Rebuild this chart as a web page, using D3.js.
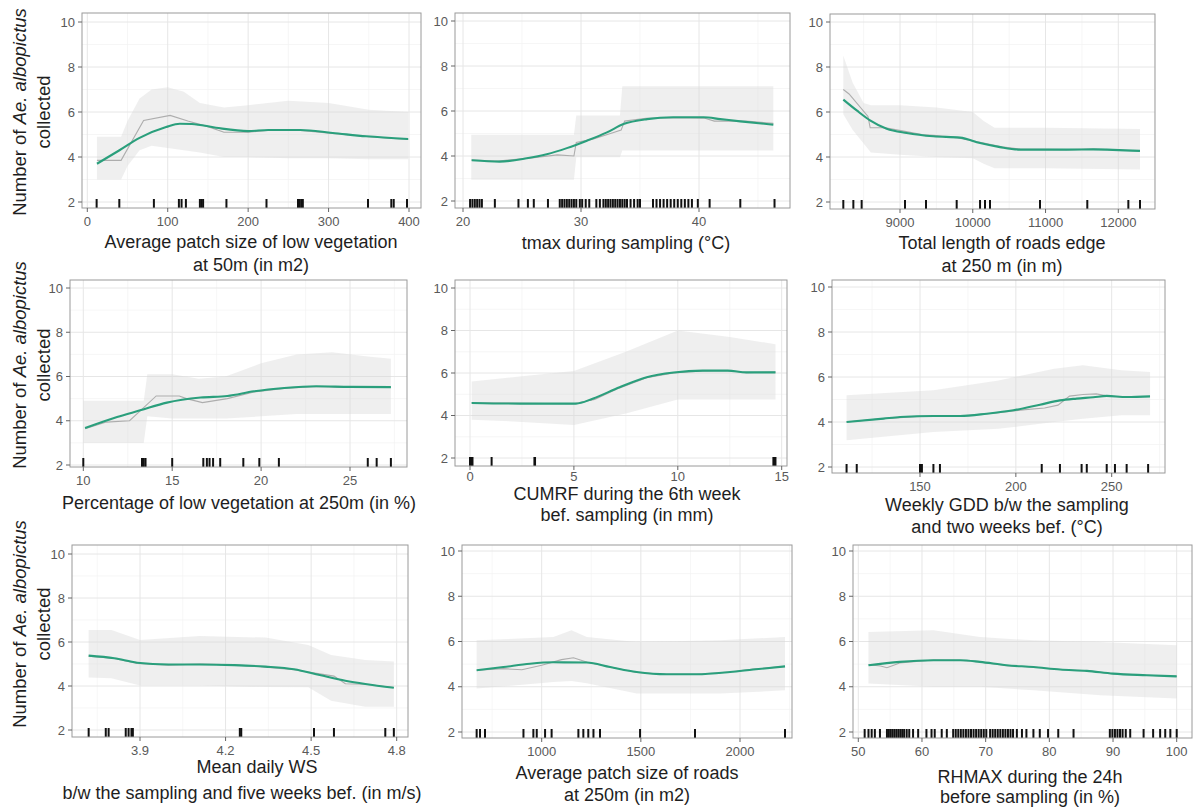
<!DOCTYPE html>
<html>
<head>
<meta charset="utf-8">
<script src="https://cdn.jsdelivr.net/npm/d3@7"></script>
<style>
  body { margin: 0; background: #fff; }
  svg { display: block; }
  text { font-family: "Liberation Sans", Arial, sans-serif; }
</style>
</head>
<body>
<div id="chart"></div>
<script>
// ---- data: partial dependence of Ae. albopictus counts ----
// average patch size of low vegetation at 50m
const vegPatchFitX = [12, 40, 65, 98, 115, 130, 160, 200, 225, 265, 305, 347, 399];
const vegPatchFit = [3.7, 4.3, 4.85, 5.33, 5.48, 5.47, 5.3, 5.15, 5.2, 5.2, 5.07, 4.92, 4.8];
const vegPatchRawX = [12, 42, 70, 103, 125, 150, 170, 200, 230, 265, 305, 350, 399];
const vegPatchRaw = [3.85, 3.85, 5.62, 5.85, 5.6, 5.35, 5.1, 5.1, 5.2, 5.18, 5.05, 4.9, 4.78];
const vegPatchBandX = [12, 42, 50, 65, 80, 100, 120, 140, 170, 200, 250, 300, 350, 399];
const vegPatchHi = [4.9, 4.9, 5.6, 6.6, 7.0, 7.1, 6.9, 6.4, 6.2, 6.3, 6.5, 6.4, 6.1, 6.0];
const vegPatchLo = [3.0, 3.0, 3.6, 4.3, 4.5, 4.4, 4.3, 4.2, 4.0, 4.0, 3.95, 3.95, 3.9, 3.9];
const vegPatchRug = [11.6, 39.8, 82.8, 113.9, 117.2, 122.6, 140, 142, 144, 173, 222.8, 262, 264, 266, 268, 349, 378, 381, 397.5];

// tmax during sampling
const tmaxFitX = [20.74, 23.1, 25.4, 27.1, 28.8, 30.5, 32.2, 33.6, 35.6, 37.8, 40.4, 41.8, 43.5, 46.3];
const tmaxFit = [3.81, 3.75, 3.9, 4.08, 4.35, 4.68, 5.05, 5.42, 5.64, 5.72, 5.72, 5.64, 5.54, 5.39];
const tmaxRawX = [20.7, 23, 26, 28, 29.4, 29.6, 31, 32.5, 33.4, 33.7, 35.5, 38, 40.5, 41.3, 44, 46.3];
const tmaxRaw = [3.82, 3.78, 3.92, 4.05, 4.0, 4.6, 4.75, 5.0, 5.15, 5.55, 5.68, 5.7, 5.68, 5.55, 5.55, 5.45];
const tmaxBandX = [20.7, 29.4, 29.6, 33.3, 33.5, 46.3];
const tmaxHi = [4.95, 4.95, 5.8, 5.8, 7.1, 7.1];
const tmaxLo = [2.95, 2.95, 3.95, 3.95, 4.25, 4.25];
const tmaxRug = [20.6, 20.8, 21.0, 21.2, 21.4, 21.6, 22.7, 24.7, 25.5, 26.0, 27.2,
  28.2, 28.4, 28.6, 28.8, 29.0, 29.2, 29.4, 29.6, 29.9, 30.1, 30.4, 30.7, 31.3, 31.6,
  31.9, 32.1, 32.3, 32.5, 32.7, 32.9, 33.1, 33.3, 33.5, 33.7, 33.9, 34.2, 34.5, 34.8, 35.0,
  36.1, 36.4, 36.7, 37.0, 37.3, 37.6, 37.9, 38.2, 38.5, 38.8, 39.1, 39.4, 39.9, 40.9, 43.5, 46.4];

// total length of roads edge at 250 m
const roadEdgeFitX = [8221, 8405, 8588, 8817, 9092, 9458, 9825, 10100, 10374, 10649, 11290, 11657, 12298];
const roadEdgeFit = [6.55, 6.07, 5.63, 5.26, 5.07, 4.92, 4.86, 4.62, 4.44, 4.33, 4.33, 4.34, 4.27];
const roadEdgeRawX = [8221, 8300, 8560, 8590, 8800, 9050, 9300, 9500, 9800, 10100, 10400, 10650, 11300, 11650, 12298];
const roadEdgeRaw = [7.0, 6.8, 5.8, 5.3, 5.3, 5.15, 5.0, 4.95, 4.85, 4.65, 4.45, 4.35, 4.33, 4.35, 4.27];
const roadEdgeBandX = [8221, 8350, 8500, 8600, 9000, 9500, 10000, 10150, 10300, 11000, 12298];
const roadEdgeHi = [8.5, 7.3, 6.4, 6.3, 6.3, 6.2, 6.0, 5.6, 5.3, 5.3, 5.25];
const roadEdgeLo = [5.9, 5.2, 4.6, 4.2, 4.1, 4.0, 3.95, 3.7, 3.5, 3.5, 3.45];
const roadEdgeRug = [8221, 8359, 8473, 9069, 9357, 9779, 10100, 10168, 10237, 10924, 11574, 12138, 12298];

// percentage of low vegetation at 250m
const lowVegFitX = [10.1, 11.9, 13.2, 14.7, 16.6, 18.1, 19.6, 21.3, 23.1, 25, 27.3];
const lowVegFit = [3.67, 4.17, 4.47, 4.82, 5.05, 5.12, 5.33, 5.48, 5.56, 5.53, 5.52];
const lowVegRawX = [10.1, 11.3, 12.6, 13.2, 14.1, 15.4, 15.8, 16.7, 18.1, 19.6, 21.3, 23.1, 25, 27.3];
const lowVegRaw = [3.64, 3.94, 4.0, 4.45, 5.12, 5.12, 5.0, 4.82, 5.0, 5.3, 5.46, 5.55, 5.5, 5.5];
const lowVegBandX = [10, 13.4, 13.6, 15, 16.5, 18, 20, 22, 24, 26, 27.3];
const lowVegHi = [4.9, 4.9, 6.1, 6.1, 5.9, 6.0, 6.6, 7.0, 7.1, 6.9, 6.8];
const lowVegLo = [3.0, 3.0, 4.2, 4.1, 4.1, 4.1, 4.2, 4.3, 4.3, 4.3, 4.3];
const lowVegRug = [10.0, 13.3, 13.4, 13.5, 15.0, 16.75, 16.95, 17.1, 17.3, 17.7, 19.0, 19.9, 21.0, 26.0, 26.5, 27.3];

// CUMRF during the 6th week before sampling
const cumrfFitX = [0.08, 2.4, 5.1, 5.9, 7.2, 8.5, 9.8, 11.2, 12.4, 13.3, 14.7];
const cumrfFit = [4.59, 4.56, 4.56, 4.79, 5.33, 5.8, 6.02, 6.11, 6.11, 6.03, 6.03];
const cumrfRawX = [0.08, 2.4, 5.0, 6.0, 7.2, 8.5, 9.8, 11.2, 12.4, 13.3, 14.7];
const cumrfRaw = [4.6, 4.58, 4.55, 4.76, 5.3, 5.78, 6.0, 6.1, 6.12, 6.02, 6.04];
const cumrfBandX = [0.08, 2.5, 5, 7.5, 10, 12.5, 14.7];
const cumrfHi = [5.6, 5.85, 6.1, 7.0, 8.0, 7.7, 7.35];
const cumrfLo = [3.8, 3.7, 3.55, 4.1, 4.75, 4.75, 4.75];
const cumrfRug = [0.0, 0.08, 0.12, 1.04, 3.1, 3.13, 14.6, 14.64, 14.7];

// weekly GDD between sampling and two weeks before
const gddFitX = [111.7, 130.9, 139.6, 157, 170.9, 184.8, 198.7, 212.6, 223, 231.7, 240.4, 247.4, 257.8, 270];
const gddFit = [4.0, 4.15, 4.22, 4.27, 4.27, 4.37, 4.52, 4.77, 4.96, 5.04, 5.1, 5.16, 5.11, 5.14];
const gddRawX = [111.7, 130.9, 150, 170, 190, 205, 215, 222, 228, 235, 242, 248, 258, 270];
const gddRaw = [4.0, 4.15, 4.25, 4.27, 4.4, 4.55, 4.62, 4.75, 5.15, 5.22, 5.25, 5.15, 5.1, 5.13];
const gddBandX = [111.7, 157, 191, 220, 235, 255, 270];
const gddHi = [5.19, 5.41, 5.85, 6.37, 6.52, 6.3, 6.22];
const gddLo = [3.19, 3.56, 3.7, 4.0, 4.15, 4.3, 4.3];
const gddRug = [111.7, 117, 150, 151, 157, 160.4, 213.5, 223, 234.3, 237, 247.4, 251.7, 257.8, 269];

// mean daily wind speed
const windFitX = [3.72, 3.81, 3.89, 4.0, 4.11, 4.23, 4.34, 4.44, 4.53, 4.62, 4.69, 4.79];
const windFit = [5.38, 5.26, 5.06, 4.98, 4.98, 4.95, 4.88, 4.76, 4.5, 4.24, 4.09, 3.92];
const windRawX = [3.72, 3.81, 3.89, 4.0, 4.11, 4.23, 4.34, 4.44, 4.53, 4.58, 4.62, 4.69, 4.79];
const windRaw = [5.36, 5.25, 5.02, 4.95, 5.0, 4.96, 4.86, 4.74, 4.55, 4.45, 4.1, 4.08, 3.93];
const windBandX = [3.72, 3.8, 3.9, 4.11, 4.34, 4.49, 4.57, 4.69, 4.79];
const windHi = [6.55, 6.55, 6.09, 6.27, 6.2, 5.86, 5.41, 5.18, 5.11];
const windLo = [4.39, 4.35, 4.02, 4.02, 3.95, 3.94, 3.33, 3.06, 3.06];
const windRug = [3.72, 3.78, 3.79, 3.85, 3.86, 3.87, 3.875, 4.25, 4.255, 4.51, 4.58, 4.76, 4.79];

// average patch size of roads at 250m
const roadPatchFitX = [672, 807, 941, 1059, 1227, 1345, 1479, 1630, 1782, 1950, 2067, 2227];
const roadPatchFit = [4.73, 4.87, 5.02, 5.08, 5.07, 4.87, 4.65, 4.55, 4.55, 4.65, 4.76, 4.9];
const roadPatchRawX = [672, 807, 900, 1000, 1100, 1160, 1230, 1345, 1479, 1630, 1782, 1950, 2067, 2227];
const roadPatchRaw = [4.73, 4.8, 4.75, 4.95, 5.2, 5.28, 5.08, 4.87, 4.63, 4.55, 4.55, 4.65, 4.78, 4.9];
const roadPatchBandX = [672, 1059, 1150, 1227, 1479, 1900, 2227];
const roadPatchHi = [6.05, 6.2, 6.5, 6.2, 5.98, 6.05, 6.2];
const roadPatchLo = [3.92, 4.21, 4.25, 4.15, 3.7, 3.7, 3.84];
const roadPatchRug = [672, 689, 714, 908, 958, 975, 1017, 1050, 1185, 1210, 1235, 1261, 1294, 1496, 1773, 2227];

// RHMAX during the 24h before sampling
const rhmaxFitX = [51.6, 56.5, 61.8, 66, 69.1, 73.3, 77.5, 81.7, 85.9, 90, 95.3, 100];
const rhmaxFit = [4.95, 5.1, 5.17, 5.17, 5.1, 4.95, 4.87, 4.76, 4.7, 4.58, 4.51, 4.46];
const rhmaxRawX = [51.6, 53.5, 54.5, 56.5, 61.8, 66, 69.1, 73.3, 77.5, 81.7, 85.9, 90, 95.3, 100];
const rhmaxRaw = [4.97, 4.92, 4.84, 5.05, 5.18, 5.17, 5.1, 4.93, 4.87, 4.76, 4.7, 4.58, 4.51, 4.46];
const rhmaxBandX = [51.6, 61.8, 69.1, 77.5, 88, 100];
const rhmaxHi = [6.42, 6.5, 6.2, 6.05, 5.98, 5.83];
const rhmaxLo = [4.14, 4.0, 4.0, 3.84, 3.62, 3.48];
const rhmaxRug = [51.0, 51.6, 52.1, 52.6, 53.4,
  54.5, 54.8, 55.1, 55.4, 55.7, 56.0, 56.3, 56.6, 56.9, 57.2, 57.6, 58.0,
  58.6, 59.4, 60.7, 61.5, 62.0, 63.1, 63.9,
  64.9, 65.3, 65.7, 66.1, 66.5, 66.9, 67.3, 67.7, 68.1, 68.5, 68.9, 69.3, 69.7, 70.1,
  70.7, 71.1, 71.5, 71.9, 72.3, 72.7, 73.1, 73.5, 73.9, 74.3, 74.9,
  75.7, 76.4, 77.5, 78.5, 79.8, 81.4, 83.8,
  89.5, 89.9, 90.3, 90.7, 91.1, 91.5, 92.0, 92.7,
  94.8, 96.3, 97.4, 98.2, 99.0, 100];

const yTicks = [2, 4, 6, 8, 10];

// ---- layout ----
const panels = [
  { fx: vegPatchFitX, fy: vegPatchFit, rx: vegPatchRawX, ry: vegPatchRaw, bx: vegPatchBandX, hi: vegPatchHi, lo: vegPatchLo, rug: vegPatchRug,
    box: [82, 421, 13, 208], xDom: [0, 400], xPix: [87.3, 409], yPix: [202, 22], ticks: [0, 100, 200, 300, 400],
    title: [["Average patch size of low vegetation", 251, 248], ["at 50m (in m2)", 251, 271]] },
  { fx: tmaxFitX, fy: tmaxFit, rx: tmaxRawX, ry: tmaxRaw, bx: tmaxBandX, hi: tmaxHi, lo: tmaxLo, rug: tmaxRug,
    box: [455, 790, 13, 208], xDom: [20, 40], xPix: [463, 699], yPix: [201, 21], ticks: [20, 30, 40],
    title: [["tmax during sampling (°C)", 626, 249]] },
  { fx: roadEdgeFitX, fy: roadEdgeFit, rx: roadEdgeRawX, ry: roadEdgeRaw, bx: roadEdgeBandX, hi: roadEdgeHi, lo: roadEdgeLo, rug: roadEdgeRug,
    box: [830, 1155, 14, 209], xDom: [9000, 12000], xPix: [900, 1118.3], yPix: [202, 22], ticks: [9000, 10000, 11000, 12000],
    title: [["Total length of roads edge", 1002, 249], ["at 250 m (in m)", 1002, 272]] },
  { fx: lowVegFitX, fy: lowVegFit, rx: lowVegRawX, ry: lowVegRaw, bx: lowVegBandX, hi: lowVegHi, lo: lowVegLo, rug: lowVegRug,
    box: [70, 407, 280, 467], xDom: [10, 25], xPix: [83.3, 350], yPix: [465, 288], ticks: [10, 15, 20, 25],
    title: [["Percentage of low vegetation at 250m (in %)", 239, 509]] },
  { fx: cumrfFitX, fy: cumrfFit, rx: cumrfRawX, ry: cumrfRaw, bx: cumrfBandX, hi: cumrfHi, lo: cumrfLo, rug: cumrfRug,
    box: [455, 787, 280, 466], xDom: [0, 15], xPix: [470, 781.7], yPix: [458, 288], ticks: [0, 5, 10, 15], tickDy: 15,
    title: [["CUMRF during the 6th week", 627, 500], ["bef. sampling (in mm)", 627, 521]] },
  { fx: gddFitX, fy: gddFit, rx: gddRawX, ry: gddRaw, bx: gddBandX, hi: gddHi, lo: gddLo, rug: gddRug,
    box: [832, 1165, 280, 473], xDom: [150, 250], xPix: [920, 1111.7], yPix: [467, 287], ticks: [150, 200, 250],
    title: [["Weekly GDD b/w the sampling", 1007, 511], ["and two weeks bef. (°C)", 1007, 533]] },
  { fx: windFitX, fy: windFit, rx: windRawX, ry: windRaw, bx: windBandX, hi: windHi, lo: windLo, rug: windRug,
    box: [72, 408, 545, 737], xDom: [3.9, 4.8], xPix: [140, 396.7], yPix: [730, 554], ticks: [3.9, 4.2, 4.5, 4.8], fmt: d3.format(".1f"),
    title: [["Mean daily WS", 257, 773], ["b/w the sampling and five weeks bef. (in m/s)", 242, 799]] },
  { fx: roadPatchFitX, fy: roadPatchFit, rx: roadPatchRawX, ry: roadPatchRaw, bx: roadPatchBandX, hi: roadPatchHi, lo: roadPatchLo, rug: roadPatchRug,
    box: [462, 792, 545, 738], xDom: [1000, 2000], xPix: [541.7, 740], yPix: [732, 551], ticks: [1000, 1500, 2000],
    title: [["Average patch size of roads", 627, 779], ["at 250m (in m2)", 627, 801]] },
  { fx: rhmaxFitX, fy: rhmaxFit, rx: rhmaxRawX, ry: rhmaxRaw, bx: rhmaxBandX, hi: rhmaxHi, lo: rhmaxLo, rug: rhmaxRug,
    box: [853, 1192, 545, 738], xDom: [50, 100], xPix: [858.3, 1176.7], yPix: [732, 551], ticks: [50, 60, 70, 80, 90, 100],
    title: [["RHMAX during the 24h", 1030, 783], ["before sampling (in %)", 1030, 803]] }
];

const rowCentres = [112, 365, 624];

const svg = d3.select("#chart")
  .append("svg")
  .attr("width", 1194)
  .attr("height", 808);

function midpoints(ticks, step) {
  const out = [];
  for (let i = -1; i < ticks.length; i++) out.push(ticks[0] + step * (i + 0.5));
  return out;
}

panels.forEach((p, i) => {
  const [left, right, top, bottom] = p.box;
  const x = d3.scaleLinear().domain(p.xDom).range(p.xPix);
  const y = d3.scaleLinear().domain([2, 10]).range(p.yPix);
  const g = svg.append("g");

  g.append("clipPath").attr("id", "clip" + i)
    .append("rect").attr("x", left).attr("y", top)
    .attr("width", right - left).attr("height", bottom - top);

  const inner = g.append("g").attr("clip-path", `url(#clip${i})`);

  // grid
  const xStep = p.ticks[1] - p.ticks[0];
  const xMinor = midpoints(p.ticks, xStep).filter((v) => x(v) > left && x(v) < right);
  const yMinor = [1, 3, 5, 7, 9];
  inner.selectAll(".xminor").data(xMinor).enter().append("line")
    .attr("x1", (d) => x(d)).attr("x2", (d) => x(d)).attr("y1", top).attr("y2", bottom)
    .attr("stroke", "#f2f2f2").attr("stroke-width", 0.7);
  inner.selectAll(".yminor").data(yMinor).enter().append("line")
    .attr("x1", left).attr("x2", right).attr("y1", (d) => y(d)).attr("y2", (d) => y(d))
    .attr("stroke", "#f2f2f2").attr("stroke-width", 0.7);
  inner.selectAll(".xmajor").data(p.ticks).enter().append("line")
    .attr("x1", (d) => x(d)).attr("x2", (d) => x(d)).attr("y1", top).attr("y2", bottom)
    .attr("stroke", "#e6e6e6").attr("stroke-width", 1);
  inner.selectAll(".ymajor").data(yTicks).enter().append("line")
    .attr("x1", left).attr("x2", right).attr("y1", (d) => y(d)).attr("y2", (d) => y(d))
    .attr("stroke", "#e6e6e6").attr("stroke-width", 1);

  // confidence band
  const band = p.bx.map((v, k) => [v, p.lo[k], p.hi[k]]);
  inner.append("path")
    .datum(band)
    .attr("d", d3.area().x((d) => x(d[0])).y0((d) => y(d[1])).y1((d) => y(d[2])))
    .attr("fill", "#dadada")
    .attr("opacity", 0.42);

  // raw partial dependence
  const raw = p.rx.map((v, k) => [v, p.ry[k]]);
  inner.append("path")
    .datum(raw)
    .attr("d", d3.line().x((d) => x(d[0])).y((d) => y(d[1])))
    .attr("fill", "none")
    .attr("stroke", "#adadad")
    .attr("stroke-width", 1.1);

  // smoothed fit
  const fit = p.fx.map((v, k) => [v, p.fy[k]]);
  inner.append("path")
    .datum(fit)
    .attr("d", d3.line().curve(d3.curveMonotoneX).x((d) => x(d[0])).y((d) => y(d[1])))
    .attr("fill", "none")
    .attr("stroke", "#2a9f7c")
    .attr("stroke-width", 2.1);

  // rug
  inner.selectAll(".rug").data(p.rug).enter().append("line")
    .attr("x1", (d) => x(d)).attr("x2", (d) => x(d))
    .attr("y1", bottom).attr("y2", bottom - 9)
    .attr("stroke", "#111").attr("stroke-width", 2);

  // border
  g.append("rect")
    .attr("x", left).attr("y", top)
    .attr("width", right - left).attr("height", bottom - top)
    .attr("fill", "none").attr("stroke", "#9a9a9a").attr("stroke-width", 1);

  // y axis
  g.selectAll(".ytick").data(yTicks).enter().append("line")
    .attr("x1", left - 4).attr("x2", left).attr("y1", (d) => y(d)).attr("y2", (d) => y(d))
    .attr("stroke", "#666");
  g.selectAll(".ylab").data(yTicks).enter().append("text")
    .attr("x", left - 7).attr("y", (d) => y(d) + 4.5)
    .attr("text-anchor", "end")
    .attr("font-size", 13).attr("fill", "#5a5a5a")
    .text((d) => d);

  // x axis
  const fmt = p.fmt || ((d) => d);
  g.selectAll(".xtick").data(p.ticks).enter().append("line")
    .attr("x1", (d) => x(d)).attr("x2", (d) => x(d)).attr("y1", bottom).attr("y2", bottom + 4)
    .attr("stroke", "#666");
  g.selectAll(".xlab").data(p.ticks).enter().append("text")
    .attr("x", (d) => x(d)).attr("y", bottom + (p.tickDy || 18))
    .attr("text-anchor", "middle")
    .attr("font-size", 13).attr("fill", "#5a5a5a")
    .text(fmt);

  // axis title
  p.title.forEach(([txt, tx, ty]) => {
    g.append("text")
      .attr("x", tx).attr("y", ty)
      .attr("text-anchor", "middle")
      .attr("font-size", 18).attr("fill", "#1e1e1e")
      .text(txt);
  });

  // y title on first column
  if (i % 3 === 0) {
    const cy = rowCentres[i / 3];
    const t1 = g.append("text")
      .attr("transform", `translate(26,${cy}) rotate(-90)`)
      .attr("text-anchor", "middle")
      .attr("font-size", 18.5).attr("fill", "#1e1e1e");
    t1.append("tspan").text("Number of ");
    t1.append("tspan").attr("font-style", "italic").text("Ae. albopictus");
    g.append("text")
      .attr("transform", `translate(50,${cy}) rotate(-90)`)
      .attr("text-anchor", "middle")
      .attr("font-size", 18.5).attr("fill", "#1e1e1e")
      .text("collected");
  }
});
</script>
</body>
</html>
